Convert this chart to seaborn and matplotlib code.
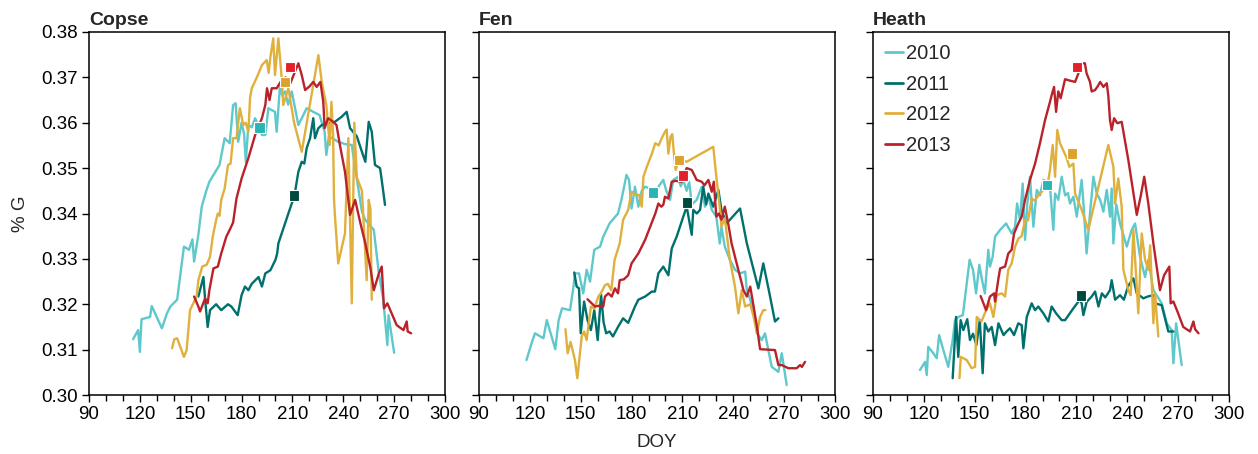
import numpy as np
import pandas as pd
import matplotlib
matplotlib.use("Agg")
import matplotlib.pyplot as plt
import seaborn as sns
from matplotlib.ticker import MultipleLocator, FormatStrFormatter

sites = ["Copse", "Fen", "Heath"]
years = ["2010", "2011", "2012", "2013"]

# ---------------- Copse ----------------
copse_2010_doy = [116, 119, 120, 121, 126, 127, 133, 136, 138, 142, 146, 149, 151, 152, 154.5, 156.5, 159, 161, 167, 170,
                  173, 175, 176.5, 178, 180, 181.5, 182.5, 184, 186, 188, 192, 194, 195.8, 199.7, 200.7, 202.7, 204, 205.6,
                  207.5, 209.6, 213.5, 218.4, 222.3, 226, 229, 230, 231.5, 237, 241, 245, 247, 251, 253, 258, 261, 263.6,
                  266, 266.7, 270]
copse_2010_g = [0.3123, 0.3143, 0.3095, 0.3167, 0.3172, 0.3196, 0.3147, 0.318, 0.3195, 0.321, 0.3327, 0.332, 0.3343, 0.3294,
                0.3353, 0.3415, 0.3448, 0.347, 0.3507, 0.3566, 0.3555, 0.3639, 0.3643, 0.3558, 0.3600, 0.3575, 0.3514,
                0.3595, 0.3590, 0.361, 0.3573, 0.3573, 0.3632, 0.3624, 0.358, 0.3683, 0.3660, 0.3669, 0.3640, 0.3669,
                0.3595, 0.3632, 0.3624, 0.3617, 0.358, 0.3529, 0.3570, 0.3558, 0.3553, 0.3551, 0.3500, 0.3404, 0.3386,
                0.3364, 0.3268, 0.321, 0.311, 0.3176, 0.3093]
copse_2011_doy = [154.5, 157.5, 158.5, 160, 161.4, 165, 168, 172, 174, 177.7, 180, 182, 184, 186, 190, 192, 194, 197, 200,
                  201, 201.7, 207.6, 209.6, 211, 213.5, 215.5, 217, 218.4, 220.4, 222.3, 223.3, 225.3, 227.3, 235, 239,
                  242, 244, 248, 251, 253, 255, 256.8, 258.7, 261.7, 263.6, 264.6]
copse_2011_g = [0.3217, 0.326, 0.321, 0.315, 0.3187, 0.320, 0.3187, 0.320, 0.3195, 0.3176, 0.322, 0.3239, 0.3231, 0.3245,
                0.326, 0.3239, 0.3268, 0.3275, 0.3298, 0.3312, 0.3334, 0.340, 0.3422, 0.3435, 0.3492, 0.3514, 0.3510,
                0.3544, 0.3566, 0.361, 0.3566, 0.3588, 0.3595, 0.3602, 0.3613, 0.3624, 0.3588, 0.3570, 0.3536, 0.3514,
                0.3602, 0.358, 0.3507, 0.350, 0.3448, 0.3419]
copse_2012_doy = [139, 140.3, 142, 146, 147.6, 149.6, 151.5, 153.5, 154.5, 156.8, 159.4, 161.4, 163, 165, 166, 167, 168,
                  170, 172, 173.5, 175, 177, 179, 181, 182.5, 184, 185, 186, 189, 192, 194.8, 196, 197, 198.7, 199.7,
                  201.7, 203.7, 204.6, 207.6, 211, 215.5, 225.3, 227.3, 230, 232, 233, 234, 234.5, 235, 237, 241, 243,
                  245, 246.5, 248, 251, 253.8, 255, 256, 256.8]
copse_2012_g = [0.3103, 0.3123, 0.3125, 0.3084, 0.3099, 0.3187, 0.3202, 0.3217, 0.3253, 0.3283, 0.3287, 0.3305, 0.3349,
                0.3386, 0.3400, 0.3395, 0.343, 0.3455, 0.3507, 0.3510, 0.3566, 0.3566, 0.3632, 0.3595, 0.3600, 0.358,
                0.3654, 0.3676, 0.3700, 0.3727, 0.3738, 0.3710, 0.3745, 0.3786, 0.3705, 0.3786, 0.3697, 0.3639, 0.3676,
                0.3600, 0.3536, 0.3749, 0.369, 0.3639, 0.3551, 0.3646, 0.3573, 0.3433, 0.340, 0.329, 0.3356, 0.3566,
                0.3202, 0.3600, 0.3480, 0.3450, 0.3253, 0.343, 0.341, 0.321]
copse_2013_doy = [152, 154.5, 155.5, 158.5, 160, 161, 163.4, 166, 168, 171, 173, 175, 177, 180, 184, 188, 192, 194, 195,
                  196.5, 197.8, 200.7, 203, 206, 208, 213.5, 215.5, 217.5, 220, 222.3, 224.3, 226.5, 228.2, 229, 231,
                  234, 236, 238, 241, 244, 247, 250, 253, 256, 258, 261, 262.7, 264, 266, 271.5, 275.5, 277.4, 278, 280]
copse_2013_g = [0.3217, 0.3195, 0.3184, 0.3213, 0.3202, 0.3231, 0.3279, 0.3283, 0.3312, 0.3349, 0.3364, 0.3380, 0.3433,
                0.3477, 0.3522, 0.3573, 0.361, 0.3639, 0.3676, 0.3650, 0.3676, 0.3676, 0.3690, 0.3700, 0.3680, 0.3731,
                0.3705, 0.3672, 0.3680, 0.369, 0.3679, 0.3690, 0.3646, 0.3588, 0.361, 0.3602, 0.3595, 0.3551, 0.3492,
                0.3397, 0.343, 0.3380, 0.3334, 0.3280, 0.3231, 0.3268, 0.3283, 0.3191, 0.3202, 0.3154, 0.3143, 0.3162,
                0.3140, 0.3136]

# ---------------- Fen ----------------
fen_2010_doy = [118, 121, 123, 128, 130, 135, 137, 139, 143.7, 145.6, 146.6, 149, 151.5, 153.5, 155.5, 158, 161.4, 163.3,
                167, 172, 174, 177, 178.5, 180, 182, 184, 186, 188, 191, 194, 196, 198.7, 200.5, 202.7, 204.6, 207.6,
                209, 210.5, 212.5, 214, 215.5, 218.4, 221.4, 223.3, 225.3, 227.3, 230, 232, 233, 235, 238, 241, 244,
                247, 248, 250, 252, 254, 256.8, 258.7, 260.7, 262.7, 266.6, 268.6, 271.5]
fen_2010_g = [0.3077, 0.3114, 0.3136, 0.3125, 0.3165, 0.3101, 0.3165, 0.3191, 0.3187, 0.3235, 0.3268, 0.3268, 0.3224,
              0.3276, 0.325, 0.332, 0.3327, 0.3349, 0.3378, 0.340, 0.343, 0.3485, 0.3474, 0.3411, 0.3459, 0.3415,
              0.3450, 0.3459, 0.3455, 0.3440, 0.3460, 0.3474, 0.3450, 0.343, 0.3474, 0.3481, 0.3460, 0.3474, 0.3450,
              0.3470, 0.3420, 0.343, 0.3459, 0.3415, 0.3437, 0.3408, 0.3393, 0.3334, 0.3370, 0.3327, 0.3298, 0.3276,
              0.3268, 0.3272, 0.3231, 0.321, 0.3180, 0.3136, 0.3121, 0.3136, 0.3099, 0.3062, 0.3051, 0.3092, 0.3022]
fen_2011_doy = [146.2, 147.6, 149, 150, 152, 154, 156, 158, 160, 162, 163.5, 165, 167, 169, 172, 175, 178, 182, 184, 188,
                192, 193.8, 195.8, 198.7, 201.7, 203.7, 206.6, 210.5, 212.5, 215.5, 216.4, 218.5, 220.4, 222.3, 224,
                225.3, 228.2, 231.2, 233, 236, 244, 248, 254.8, 257.7, 261, 264.6, 266.6]
fen_2011_g = [0.3270, 0.3239, 0.3235, 0.3136, 0.3206, 0.3165, 0.3143, 0.3187, 0.3121, 0.3221, 0.3160, 0.3136, 0.3140,
              0.3129, 0.315, 0.3169, 0.3159, 0.3195, 0.321, 0.3217, 0.3228, 0.3228, 0.3268, 0.3283, 0.3264, 0.3323,
              0.3349, 0.3393, 0.3415, 0.3353, 0.3408, 0.3400, 0.3408, 0.3459, 0.3420, 0.3444, 0.3415, 0.3452, 0.3408,
              0.3378, 0.3411, 0.3334, 0.3235, 0.329, 0.3230, 0.3162, 0.3169]
fen_2012_doy = [141, 142.3, 144, 146.6, 148, 150.6, 152, 153.5, 156, 158, 160.4, 162, 164.3, 166, 168, 170, 173, 175, 178,
                180, 182.4, 184.5, 186, 187, 189, 192, 194, 196, 197.8, 199.7, 200.7, 201.7, 203, 204, 205, 206, 208,
                212.5, 228.2, 230, 232, 233, 235, 238, 241, 243, 245, 247, 250, 252, 254, 255.8, 257.7, 259]
fen_2012_g = [0.3145, 0.3092, 0.3117, 0.3077, 0.3037, 0.3129, 0.3140, 0.3121, 0.3195, 0.3190, 0.3217, 0.3225, 0.3242,
              0.3245, 0.3231, 0.3298, 0.3334, 0.3386, 0.3408, 0.3448, 0.3441, 0.3441, 0.3415, 0.3481, 0.3503, 0.3532,
              0.3555, 0.3550, 0.3566, 0.358, 0.3585, 0.3532, 0.3569, 0.3575, 0.3532, 0.3496, 0.3520, 0.3514, 0.3547,
              0.3481, 0.3415, 0.3371, 0.3390, 0.3298, 0.3239, 0.318, 0.3231, 0.3195, 0.3200, 0.3172, 0.3136, 0.3172,
              0.3187, 0.3187]
fen_2013_doy = [154, 156.5, 158.4, 161.4, 163.3, 164.3, 166.3, 168.3, 170.2, 172, 173, 175.5, 178, 180, 184, 188, 191, 194,
                195.8, 197.5, 198.7, 199.7, 201.7, 203.7, 206, 209.6, 211, 212.5, 215.5, 218.4, 221.4, 223, 225.3,
                227.3, 228.5, 230, 231.5, 233, 235, 237, 239, 242, 246, 248, 250, 252, 254, 255.8, 264.6, 266.6, 268.6,
                272.5, 277.4, 279.4, 280.5, 282.3]
fen_2013_g = [0.3211, 0.3202, 0.3195, 0.3197, 0.3195, 0.3217, 0.3224, 0.3217, 0.3235, 0.3224, 0.3253, 0.3255, 0.3264,
              0.329, 0.3312, 0.3342, 0.3371, 0.34, 0.3422, 0.3415, 0.3419, 0.3437, 0.3433, 0.347, 0.3472, 0.347, 0.3483,
              0.35, 0.3496, 0.3474, 0.347, 0.3462, 0.3474, 0.3448, 0.3470, 0.3393, 0.3400, 0.3386, 0.3415, 0.3378,
              0.3334, 0.329, 0.3231, 0.3217, 0.3239, 0.3195, 0.315, 0.3101, 0.3099, 0.3066, 0.3066, 0.3059, 0.3059,
              0.3066, 0.3062, 0.3073]

# ---------------- Heath ----------------
heath_2010_doy = [117.7, 120.7, 121.7, 122.6, 125.6, 127.6, 129, 131.5, 134.4, 137, 138.4, 140.3, 143, 145.3, 147, 149,
                  150.8, 152.7, 154.5, 156, 158, 159, 160.6, 162, 165, 168.5, 171.8, 173.8, 175, 176.7, 178.3, 179.7,
                  181, 182.6, 184.6, 186.6, 188.5, 190.5, 192.5, 194.5, 196.4, 197.4, 199.3, 201.3, 203.3, 205, 206.2,
                  208.2, 210.2, 213.1, 214, 216, 218, 220, 222, 224, 225.9, 227.9, 229.8, 230.8, 231.8, 233.5, 235.7,
                  239.7, 242.6, 244.6, 247.5, 250.5, 252.4, 255.4, 260.3, 263.3, 266.2, 267.2, 268.8, 272.1]
heath_2010_g = [0.3055, 0.3073, 0.3044, 0.3106, 0.3092, 0.3081, 0.3132, 0.3099, 0.3062, 0.3121, 0.3165, 0.3172, 0.3176,
                0.3246, 0.3298, 0.3276, 0.3224, 0.3287, 0.3250, 0.3224, 0.332, 0.3283, 0.3305, 0.3349, 0.3364, 0.3378,
                0.3356, 0.3371, 0.3422, 0.3386, 0.3466, 0.3342, 0.3420, 0.3481, 0.3371, 0.3452, 0.3440, 0.3474, 0.3470,
                0.3455, 0.3364, 0.3444, 0.3430, 0.3481, 0.3440, 0.3445, 0.3422, 0.3437, 0.3393, 0.3474, 0.3430, 0.3312,
                0.3400, 0.3481, 0.3444, 0.3430, 0.3404, 0.3452, 0.3393, 0.3455, 0.3334, 0.3420, 0.3378, 0.3327, 0.3364,
                0.3378, 0.3305, 0.326, 0.3298, 0.3231, 0.3202, 0.3158, 0.3143, 0.307, 0.3158, 0.3066]
heath_2011_doy = [137, 139, 140.3, 141.7, 143.3, 145.6, 147.2, 149, 151, 153, 154.7, 156, 158, 160, 162, 164, 167, 168.8,
                  170.8, 173.2, 175.7, 177.7, 178.7, 180.7, 183.6, 185.6, 187.5, 190.5, 193.4, 195.4, 198, 201.3, 203.3,
                  208, 212, 213.1, 214.1, 216, 219, 221, 223, 225, 227, 229.8, 230.8, 232.8, 235.7, 238, 240.5, 243.6,
                  245.6, 249.5, 252, 255.4, 256.4, 260.3, 264.2, 267.2]
heath_2011_g = [0.3037, 0.3172, 0.3084, 0.3165, 0.3143, 0.3167, 0.3121, 0.3135, 0.311, 0.3165, 0.3048, 0.3158, 0.3140,
                0.315, 0.311, 0.3158, 0.3132, 0.3140, 0.3147, 0.3132, 0.3158, 0.3154, 0.3103, 0.3172, 0.3202, 0.3187,
                0.3195, 0.318, 0.3162, 0.3195, 0.3180, 0.3165, 0.3165, 0.3190, 0.3210, 0.3202, 0.3176, 0.3205, 0.3217,
                0.3228, 0.3195, 0.3224, 0.3215, 0.3231, 0.3253, 0.321, 0.322, 0.3210, 0.3240, 0.3257, 0.3224, 0.3213,
                0.3217, 0.322, 0.3202, 0.3198, 0.314, 0.314]
heath_2012_doy = [141, 141.8, 145.3, 148.2, 150.2, 151.2, 154, 156.5, 159, 161, 163, 166, 167.9, 169.8, 171.8, 173.8,
                  175.8, 177.7, 179.7, 181.5, 183.6, 185.5, 187.5, 190.5, 192.5, 194.4, 196, 197.4, 198.7, 200.3, 204.3,
                  205.8, 208.2, 209.2, 213.1, 217, 228.8, 231.8, 232.8, 234.7, 236.7, 237.7, 240.6, 242, 243.6, 246.5,
                  248.5, 250.5, 252.4, 253.5, 255.4, 256.4, 258.3]
heath_2012_g = [0.3037, 0.3084, 0.3077, 0.3059, 0.3062, 0.3172, 0.3162, 0.3185, 0.3202, 0.3172, 0.322, 0.3224, 0.3217,
                0.3276, 0.3290, 0.3327, 0.3345, 0.3350, 0.3386, 0.3385, 0.3433, 0.3428, 0.3440, 0.3452, 0.3452, 0.3496,
                0.3551, 0.3481, 0.3584, 0.3555, 0.3522, 0.3503, 0.351, 0.3444, 0.3408, 0.3364, 0.3551, 0.3503, 0.3422,
                0.3477, 0.3415, 0.3276, 0.3231, 0.3220, 0.3364, 0.318, 0.3356, 0.3298, 0.3276, 0.3330, 0.3158, 0.3224,
                0.3129]
heath_2013_doy = [153.5, 156.7, 159, 161.4, 162, 164, 165, 167.9, 169.8, 171.8, 173.2, 175.7, 177.7, 179.7, 182.6, 185.6,
                  188.5, 191.5, 194.4, 195.4, 196.8, 198, 199.3, 200.7, 203.3, 206, 209.2, 211.2, 213.1, 215, 216, 218,
                  219, 221, 222.5, 224, 225.9, 227.9, 228.8, 229.8, 230.8, 232.2, 234.1, 236.7, 240.6, 245.6, 248, 250,
                  252.4, 255.4, 259.3, 261.7, 264.8, 265.6, 267.2, 270, 273, 277, 279, 280, 282]
heath_2013_g = [0.3218, 0.3187, 0.3217, 0.3224, 0.3206, 0.3257, 0.3279, 0.3283, 0.3312, 0.332, 0.3356, 0.3378, 0.3393,
                0.343, 0.3474, 0.351, 0.3555, 0.3606, 0.3646, 0.3661, 0.3679, 0.3624, 0.3669, 0.3654, 0.3696, 0.3693,
                0.369, 0.3709, 0.3731, 0.3731, 0.3709, 0.3690, 0.3669, 0.3672, 0.3680, 0.369, 0.3679, 0.3687, 0.3660,
                0.3606, 0.3584, 0.361, 0.3599, 0.3602, 0.3518, 0.3397, 0.3440, 0.3481, 0.3422, 0.3334, 0.3231, 0.3264,
                0.3283, 0.3202, 0.3206, 0.3180, 0.315, 0.314, 0.3162, 0.3145, 0.3136]

# ---------------- square markers (one per site-year) ----------------
marker_site = ["Copse"] * 4 + ["Fen"] * 4 + ["Heath"] * 4
marker_year = years * 3
marker_doy = [190.5, 210.9, 205.6, 208.6, 192.6, 212.7, 208.0, 210.4, 192.6, 212.7, 207.4, 210.4]
marker_g = [0.3589, 0.3439, 0.3690, 0.3723, 0.3447, 0.3425, 0.3518, 0.3483, 0.3463, 0.3220, 0.3533, 0.3723]

line_colors = {"2010": "#5ec8cb", "2011": "#00706c", "2012": "#e0b03e", "2013": "#b9222a"}
marker_colors = {"2010": "#2bb3b6", "2011": "#00483f", "2012": "#dba22c", "2013": "#e3212a"}

series = {
    ("Copse", "2010"): (copse_2010_doy, copse_2010_g),
    ("Copse", "2011"): (copse_2011_doy, copse_2011_g),
    ("Copse", "2012"): (copse_2012_doy, copse_2012_g),
    ("Copse", "2013"): (copse_2013_doy, copse_2013_g),
    ("Fen", "2010"): (fen_2010_doy, fen_2010_g),
    ("Fen", "2011"): (fen_2011_doy, fen_2011_g),
    ("Fen", "2012"): (fen_2012_doy, fen_2012_g),
    ("Fen", "2013"): (fen_2013_doy, fen_2013_g),
    ("Heath", "2010"): (heath_2010_doy, heath_2010_g),
    ("Heath", "2011"): (heath_2011_doy, heath_2011_g),
    ("Heath", "2012"): (heath_2012_doy, heath_2012_g),
    ("Heath", "2013"): (heath_2013_doy, heath_2013_g),
}

rows = []
for (site, yr), (d, g) in series.items():
    for a, b in zip(d, g):
        rows.append((site, yr, a, b))
df = pd.DataFrame(rows, columns=["site", "year", "doy", "g"])
mk = pd.DataFrame({"site": marker_site, "year": marker_year, "doy": marker_doy, "g": marker_g})

sns.set_style("ticks")
plt.rcParams["font.family"] = ["Liberation Sans", "DejaVu Sans"]

fig = plt.figure(figsize=(12.58, 4.54), dpi=100)
W, H = 1258.0, 454.0
lefts = [89, 479, 873]
axw = 356
top, bottom = 32, 395

axes = []
for i, site in enumerate(sites):
    ax = fig.add_axes([lefts[i] / W, 1 - bottom / H, axw / W, (bottom - top) / H])
    axes.append(ax)
    sub = df[df.site == site]
    sns.lineplot(data=sub, x="doy", y="g", hue="year", hue_order=years, palette=line_colors,
                 estimator=None, sort=False, linewidth=1.7, ax=ax, legend=(site == "Heath"))
    sns.scatterplot(data=mk[mk.site == site], x="doy", y="g", hue="year", hue_order=years,
                    palette=marker_colors, marker="s", s=60, edgecolor="white", linewidth=0.8,
                    ax=ax, legend=False, zorder=5)
    ax.set_xlim(90, 300)
    ax.set_ylim(0.30, 0.38)
    ax.xaxis.set_major_locator(MultipleLocator(30))
    ax.xaxis.set_minor_locator(MultipleLocator(10))
    ax.yaxis.set_major_locator(MultipleLocator(0.01))
    ax.yaxis.set_major_formatter(FormatStrFormatter("%.2f"))
    ax.tick_params(axis="both", which="major", direction="out", length=5, width=1.0,
                   labelsize=13.5, color="black", labelcolor="black", pad=3)
    ax.tick_params(axis="x", which="minor", direction="out", length=4, width=1.0, color="black")
    for sp in ax.spines.values():
        sp.set_visible(True)
        sp.set_linewidth(1.1)
        sp.set_color("black")
    ax.set_xlabel("")
    ax.set_ylabel("")
    ax.set_title(site, loc="left", fontweight="bold", fontsize=14, pad=5)
    if i > 0:
        ax.tick_params(axis="y", labelleft=False)

axes[0].set_ylabel("% G", fontsize=13.5, labelpad=9)
axes[1].set_xlabel("DOY", fontsize=13.5, labelpad=8)

h, l = axes[2].get_legend_handles_labels()
axes[2].legend(h[:4], l[:4], loc="upper left", frameon=False, fontsize=14.5, handlelength=0.9,
               handletextpad=0.15, labelspacing=0.58, borderaxespad=0.2, borderpad=0.4)
for line in axes[2].get_legend().get_lines():
    line.set_linewidth(2.0)

fig.savefig("out.png", dpi=100)
